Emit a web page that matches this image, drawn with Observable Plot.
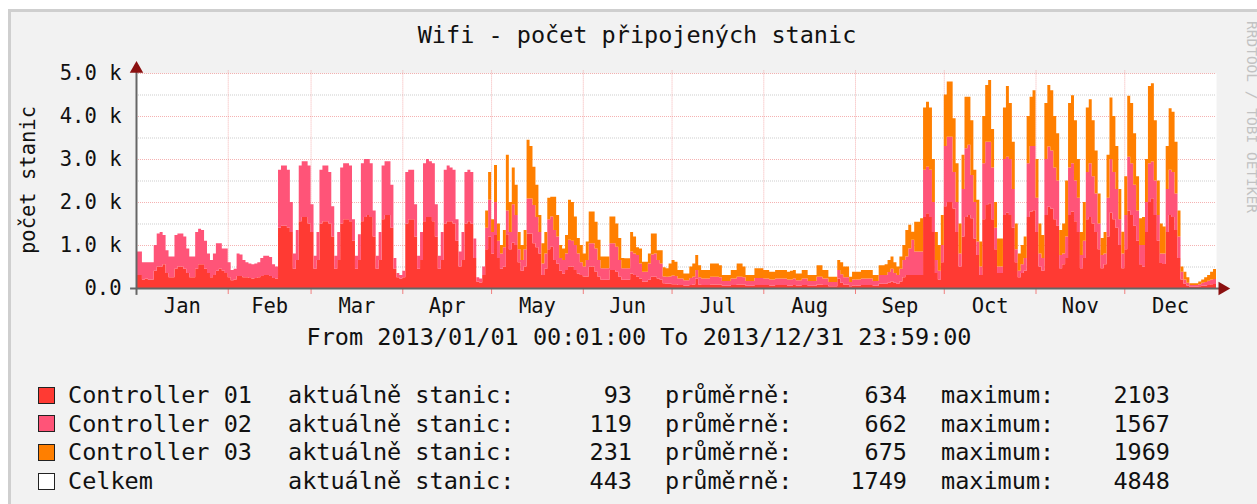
<!DOCTYPE html>
<html><head><meta charset="utf-8">
<script src="https://cdn.jsdelivr.net/npm/d3@7"></script>
<script src="https://cdn.jsdelivr.net/npm/@observablehq/plot@0.6"></script>
<style>
html,body{margin:0;padding:0;background:#fff;width:1257px;height:504px;overflow:hidden;font-family:"DejaVu Sans Mono",monospace;color:#111}
#frame{position:absolute;left:8px;top:9px;width:1270px;height:520px;background:#f2f2f2;border-left:3px solid #cfcfcf;border-top:3px solid #cfcfcf;box-sizing:border-box}
#chart{position:absolute;left:0;top:0}
.t{position:absolute;white-space:pre;line-height:29px}
.big{font-size:23.5px}
.mid{font-size:20.5px}
.box{position:absolute;width:15px;height:15px;border:1px solid #222}
</style></head><body>
<div id="frame"></div>
<div id="chart"></div>
<div id="overlay"></div>
<script>
// ---- data (daily values, 2013-01-01 .. 2013-12-31), one row per week ----
const controller01 = [
[300,300,200,220,200,200],
[400,500,500,550,350,250,250],[450,500,500,450,350,250,250],[450,550,550,450,350,250,300],[400,450,400,350,250,180,200],
[280,280,250,250,230,220,230],[250,280,300,300,280,230,220],[1400,1450,1450,1400,1300,450,650],[1550,1650,1650,1500,1300,450,650],
[1500,1550,1550,1500,1200,450,650],[1500,1600,1600,1550,1100,450,650],[1550,1650,1700,1650,1200,450,650],[1600,1700,1700,1400,450,250,220],
[250,1500,1600,1600,1200,450,650],[1550,1650,1650,1550,1200,450,650],[1500,1550,1550,1500,1100,500,650],[1500,1550,1500,700,150,130,300],
[900,1200,800,1230,700,450,500],[1250,900,1050,1000,600,400,500],[1270,1270,1040,950,800,300,450],[900,960,650,570,400,340,420],
[500,500,420,340,300,270,270],[500,500,380,260,190,190,190],[420,420,380,260,190,190,190],[340,300,260,220,150,150,190],
[260,260,220,190,110,100,100],[90,90,70,70,60,60,70],[80,220,80,70,70,70,80],[80,80,80,50,50,50,70],
[70,80,80,80,50,50,50],[70,70,70,70,70,60,60],[70,70,70,70,60,60,70],[60,60,70,70,50,50,50],
[80,80,70,70,40,40,40],[220,120,80,80,40,60,60],[60,70,70,70,70,50,50],[100,100,100,120,150,120,100],
[150,250,300,300,300,300,300],[300,1650,1740,1650,1300,350,200],[600,1900,2000,2000,1850,1300,500],[1200,1650,1700,1620,1150,770,300],
[1600,1930,1970,1600,900,350,350],[1700,1750,1700,1400,600,250,350],[400,1650,1780,1810,1300,500,400],[1700,1890,1850,1600,1450,460,550],
[700,1700,1780,1550,1300,460,700],[1600,1650,1500,1300,900,460,550],[1200,1750,1600,1400,1000,460,900],[1800,1700,1450,1100,550,500,1300],
[2000,2090,1700,1100,580,560,1300],[1700,1650,1350,700,200,100,60],[30,30,30,40,50,60,70],
[85,93]
].flat();
const controller02 = [
[550,550,400,380,400,400],
[600,770,800,680,530,480,480],[780,770,770,750,570,480,480],[850,830,800,650,450,400,500],[640,590,520,570,350,240,250],
[520,500,400,350,340,330,340],[350,420,450,450,440,320,280],[1350,1400,1400,1350,700,350,700],[1300,1300,1300,1350,650,300,650],
[1250,1300,1300,1200,700,300,650],[1300,1300,1300,1300,500,300,600],[1350,1350,1300,1250,600,300,650],[1250,1250,1250,1000,250,100,80],
[150,1200,1150,1150,750,300,650],[1350,1350,1300,1350,750,300,650],[1250,1300,1250,1250,500,350,650],[1200,1200,1200,450,100,90,200],
[500,850,500,770,400,350,450],[550,400,900,700,300,250,400],[810,810,890,700,500,270,350],[700,700,700,630,300,310,380],
[620,600,580,460,300,230,380],[540,540,540,390,270,270,270],[620,620,580,390,270,270,270],[510,500,510,350,230,230,380],
[520,540,430,380,160,160,170],[200,190,150,150,120,120,160],[180,200,170,150,150,150,180],[180,180,170,110,110,110,150],
[150,180,180,170,110,110,110],[160,160,160,150,150,140,140],[150,150,150,150,140,140,150],[120,120,150,150,110,110,110],
[180,180,150,150,100,100,100],[200,200,170,170,100,140,140],[140,150,150,150,150,110,110],[200,200,200,250,300,230,200],
[300,400,430,620,820,550,550],[550,1100,1080,1100,700,300,200],[400,1400,1520,1520,850,700,300],[1100,1600,1630,1010,850,310,200],
[1300,1470,1430,1200,500,150,150],[1300,1300,1300,900,300,150,200],[300,1250,1520,1490,800,300,300],[1300,1400,1350,1200,1050,310,250],
[500,1100,1120,950,800,310,400],[1100,1250,1100,900,600,310,250],[900,1250,1100,900,600,340,800],[1250,1200,950,700,450,500,700],
[900,850,800,600,220,240,1000],[1050,1050,850,500,180,100,60],[40,40,40,50,70,80,100],
[110,119]
].flat();
const controller03 = [
[0,0,0,0,0,0],
[0,0,0,0,0,0,0],[0,0,0,0,0,0,0],[0,0,0,0,0,0,0],[0,0,0,0,0,0,0],
[0,0,0,0,0,0,0],[0,0,0,0,0,0,0],[0,0,0,0,0,0,0],[0,0,0,0,0,0,0],
[0,0,0,0,0,0,0],[0,0,0,0,0,0,0],[0,0,0,0,0,0,0],[0,0,0,0,0,0,0],
[0,0,0,0,0,0,0],[0,0,0,0,0,0,0],[0,0,0,0,0,0,0],[0,0,0,0,0,0,0],
[400,650,300,860,400,200,400],[1300,700,850,700,400,350,450],[1370,1220,890,750,400,470,500],[500,460,770,500,300,270,430],
[930,900,660,360,400,300,430],[740,740,620,470,270,270,270],[620,620,540,510,240,230,230],[450,400,180,350,230,230,230],
[490,470,230,310,210,200,300],[360,330,200,200,160,160,270],[310,350,280,200,200,200,310],[310,310,280,140,140,140,200],
[200,310,310,250,140,140,140],[230,230,230,200,200,180,180],[200,200,200,200,180,200,200],[160,160,200,200,140,140,140],
[270,270,200,200,120,120,120],[230,280,250,250,120,180,180],[180,200,200,200,200,140,140],[230,230,250,280,280,250,200],
[280,350,620,550,190,690,690],[770,1450,1510,1450,1000,650,600],[700,1200,1280,1280,1250,900,700],[800,1200,1120,1270,750,970,580],
[1100,1320,1440,900,600,650,650],[1200,1650,1300,1100,600,400,450],[500,1100,1150,1300,900,700,530],[1300,1430,1400,1200,1100,580,700],
[1300,1500,1580,1400,900,530,900],[1500,1490,1300,1000,700,390,500],[1000,1430,1300,1000,700,510,900],[1420,1400,1200,800,620,650,1000],
[1800,1820,1400,800,700,630,1000],[1430,1400,1200,600,120,180,130],[40,40,40,60,80,110,130],
[185,231]
].flat();

const seriesNames = ["Controller 01", "Controller 02", "Controller 03"];
const seriesColors = ["#ff3a33", "#ff5478", "#ff7f00"];
const monthNames = ["Jan","Feb","Mar","Apr","May","Jun","Jul","Aug","Sep","Oct","Nov","Dec"];
const yTicks = [0, 1000, 2000, 3000, 4000, 5000];
const yTickLabels = ["0.0", "1.0 k", "2.0 k", "3.0 k", "4.0 k", "5.0 k"];
const yMinorTicks = [500, 1500, 2500, 3500, 4500];

const legendNames = ["Controller 01", "Controller 02", "Controller 03", "Celkem"];
const legendColors = ["#ff3a33", "#ff5478", "#ff7f00", "#ffffff"];
const currentValues = [93, 119, 231, 443];
const averageValues = [634, 662, 675, 1749];
const maximumValues = [2103, 1567, 1969, 4848];

const titleText = "Wifi - počet připojených stanic";
const rangeText = "From 2013/01/01 00:01:00 To 2013/12/31 23:59:00";
const yLabelText = "počet stanic";
const watermarkText = "RRDTOOL / TOBI OETIKER";

// ---- build tidy rows ----
const start = new Date(Date.UTC(2013, 0, 1));
const end = new Date(Date.UTC(2014, 0, 1));
const days = d3.utcDay.range(start, end);
const rows = [];
[controller01, controller02, controller03].forEach((vals, s) => {
  days.forEach((d, i) => rows.push({date: d, value: vals[i] ?? 0, series: seriesNames[s]}));
  rows.push({date: end, value: vals[vals.length - 1], series: seriesNames[s]});
});
const monthStarts = d3.utcMonth.range(start, end);
const monthMids = monthStarts.map(m => new Date((+m + +d3.utcMonth.offset(m, 1)) / 2));
const labelOf = new Map(yTicks.map((t, i) => [t, yTickLabels[i]]));
const axisStart = d3.utcDay.offset(start, -2);
const arrowX = d3.utcDay.offset(end, 2);

const plot = Plot.plot({
  width: 1257, height: 330,
  marginLeft: 136, marginRight: 41, marginTop: 73, marginBottom: 42,
  style: {background: "transparent", fontFamily: "'DejaVu Sans Mono', monospace", fontSize: "20.5px", color: "#111", overflow: "visible"},
  x: {type: "utc", domain: [start, end]},
  y: {domain: [0, 5000]},
  color: {domain: seriesNames, range: seriesColors},
  marks: [
    Plot.frame({fill: "white", stroke: "none"}),
    Plot.gridY(yMinorTicks, {stroke: "#b8b8b8", strokeOpacity: 0.7, strokeDasharray: "1,1"}),
    Plot.gridY(yTicks.slice(1), {stroke: "#f08888", strokeOpacity: 0.65, strokeDasharray: "1,1"}),
    Plot.gridX(monthStarts.slice(1), {stroke: "#f08888", strokeOpacity: 0.65, strokeDasharray: "1,1", y1: 5060, y2: 0}),
    Plot.areaY(rows, {x: "date", y: "value", z: "series", fill: "series", curve: "step-after"}),
    Plot.axisX(monthStarts, {tickSize: 6, tickFormat: () => "", stroke: "#f08080", label: null}),
    Plot.axisX(monthMids, {tickSize: 0, tickPadding: 10, tickFormat: d => monthNames[d.getUTCMonth()], label: null, fill: "#111"}),
    Plot.axisY(yTicks, {tickSize: 0, tickPadding: 15, tickFormat: d => labelOf.get(d), label: null, fill: "#111"}),
    Plot.ruleY([0], {x1: axisStart, x2: arrowX, stroke: "#666", strokeWidth: 2}),
    Plot.ruleX([start], {y1: -160, y2: 5100, stroke: "#666", strokeWidth: 2}),
    Plot.dot([0], {x: arrowX, y: 0, symbol: "triangle", rotate: 90, r: 5, fill: "#8b1010", stroke: "none"}),
    Plot.dot([0], {x: start, y: 5110, symbol: "triangle", r: 5, fill: "#8b1010", stroke: "none"})
  ]
});
document.getElementById("chart").appendChild(plot);

// ---- texts ----
const ov = document.getElementById("overlay");
function addText(txt, cls, css) {
  const el = document.createElement("div");
  el.className = "t " + cls;
  el.textContent = txt;
  Object.assign(el.style, css);
  ov.appendChild(el);
  return el;
}
addText(titleText, "big", {left: "637px", top: "21px", transform: "translateX(-50%)"});
addText(rangeText, "big", {left: "639px", top: "323px", transform: "translateX(-50%)"});
addText(yLabelText, "mid", {left: "28px", top: "180px", transform: "translate(-50%,-50%) rotate(-90deg)"});
addText(watermarkText, "", {left: "1251px", top: "117px", fontSize: "14.5px", color: "#c2c2c2", transform: "translate(-50%,-50%) rotate(90deg)"});

legendNames.forEach((name, i) => {
  const cy = 395 + i * 28.7;
  const b = document.createElement("div");
  b.className = "box";
  Object.assign(b.style, {left: "38px", top: (cy - 8.5) + "px", background: legendColors[i]});
  ov.appendChild(b);
  const top = (cy - 14) + "px";
  addText(name, "big", {left: "68px", top});
  addText("aktuálně stanic:", "big", {left: "288px", top});
  addText(String(currentValues[i]), "big", {right: (1257 - 632) + "px", top, textAlign: "right"});
  addText("průměrně:", "big", {left: "665px", top});
  addText(String(averageValues[i]), "big", {right: (1257 - 907) + "px", top, textAlign: "right"});
  addText("maximum:", "big", {left: "941px", top});
  addText(String(maximumValues[i]), "big", {right: (1257 - 1170) + "px", top, textAlign: "right"});
});
</script>
</body></html>
